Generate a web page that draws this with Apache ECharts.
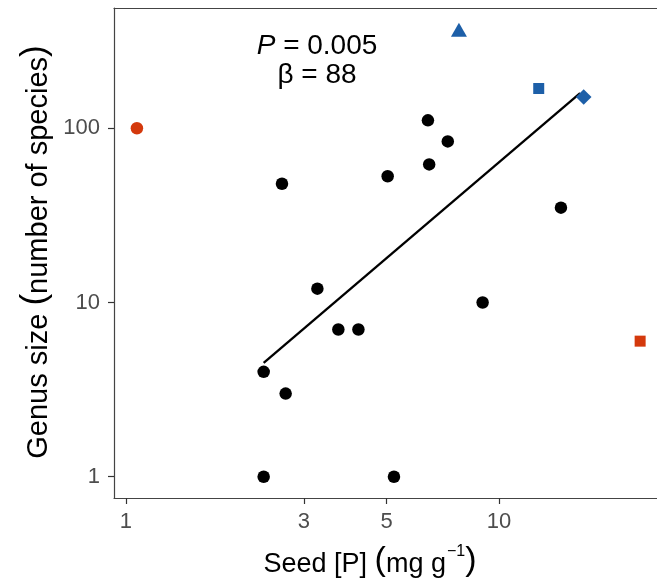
<!DOCTYPE html>
<html>
<head>
<meta charset="utf-8">
<script src="https://cdn.jsdelivr.net/npm/echarts@6/dist/echarts.min.js"></script>
<style>
  html, body { margin: 0; padding: 0; background: #fff; }
  #chart { width: 657px; height: 581px; }
</style>
</head>
<body>
<div id="chart"></div>
<script>
// Genera with seed phosphorus concentration vs. number of species
const blackSeedP = [2.62, 5.03, 3.26, 6.45, 7.29, 6.50, 14.66, 9.04, 3.71, 4.20, 2.34, 2.68, 2.34, 5.23];
const blackGenus = [48, 53, 12, 111, 84, 62, 35, 10, 7, 7, 4, 3, 1, 1];

const redSeedP = [1.07, 23.9];
const redGenus = [100, 6];
const redSymbols = ['circle', 'rect'];

const blueSeedP = [7.81, 12.78, 16.87];
const blueGenus = [368, 169, 151];
const blueSymbols = ['triangle', 'rect', 'diamond'];

// Fitted regression line (end points)
const fitSeedP = [2.34, 16.5];
const fitGenus = [4.5, 159];

const xTicks = [1, 3, 5, 10];
const yTicks = [1, 10, 100];

const lg = Math.log10;
const FONT = '"Liberation Sans", Arial, sans-serif';
const RED = '#d4390c';
const BLUE = '#1d5fa8';
const AXIS = '#444';

const pts = (xs, ys) => xs.map((x, i) => [lg(x), lg(ys[i])]);

// symbol name -> [echarts symbol, size, rotation]
const symbolStyle = {
  circle: ['circle', 12.5, 0],
  rect: ['rect', 11, 0],
  triangle: ['triangle', [16, 14], 0],
  diamond: ['rect', 11, 45]
};
const styledPoint = (d, name) => ({
  value: d,
  symbol: symbolStyle[name][0],
  symbolSize: symbolStyle[name][1],
  symbolRotate: symbolStyle[name][2]
});

const chart = echarts.init(document.getElementById('chart'), null, { renderer: 'canvas' });

const tickLabel = {
  color: '#4d4d4d',
  fontSize: 22,
  fontFamily: FONT,
  formatter: v => String(Math.round(Math.pow(10, v)))
};

chart.setOption({
  animation: false,
  backgroundColor: '#fff',
  grid: { left: 114, top: 8, right: 0, bottom: 83, show: false },
  xAxis: [
    {
      type: 'value', min: -0.032, max: 1.4236,
      splitLine: { show: false },
      axisLine: { show: true, onZero: false, lineStyle: { color: AXIS, width: 1.2 } },
      axisTick: { show: true, customValues: xTicks.map(lg), length: 6, lineStyle: { color: '#333', width: 1.2 } },
      axisLabel: Object.assign({ customValues: xTicks.map(lg), margin: 13 }, tickLabel)
    },
    {
      // top frame line
      type: 'value', position: 'top', min: -0.032, max: 1.4236,
      splitLine: { show: false },
      axisLine: { show: true, onZero: false, lineStyle: { color: AXIS, width: 1.2 } },
      axisTick: { show: false },
      axisLabel: { show: false }
    }
  ],
  yAxis: {
    type: 'value', min: -0.122, max: 2.69,
    splitLine: { show: false },
    axisLine: { show: true, onZero: false, lineStyle: { color: AXIS, width: 1.2 } },
    axisTick: { show: true, customValues: yTicks.map(lg), length: 6, lineStyle: { color: '#333', width: 1.2 } },
    axisLabel: Object.assign({ customValues: yTicks.map(lg), margin: 14 }, tickLabel)
  },
  series: [
    {
      type: 'line',
      data: pts(fitSeedP, fitGenus),
      showSymbol: false,
      lineStyle: { color: '#000', width: 2.3 },
      z: 2
    },
    {
      type: 'scatter',
      data: pts(blackSeedP, blackGenus),
      symbol: 'circle',
      symbolSize: 12.5,
      itemStyle: { color: '#000', opacity: 1 },
      z: 3
    },
    {
      type: 'scatter',
      data: pts(redSeedP, redGenus).map((d, i) => styledPoint(d, redSymbols[i])),
      itemStyle: { color: RED, opacity: 1 },
      z: 3
    },
    {
      type: 'scatter',
      data: pts(blueSeedP, blueGenus).map((d, i) => styledPoint(d, blueSymbols[i])),
      itemStyle: { color: BLUE, opacity: 1 },
      z: 3
    }
  ],
  graphic: [
    {
      type: 'text', x: 317, y: 46,
      style: {
        text: '{it|P} = 0.005', align: 'center', verticalAlign: 'middle',
        fill: '#000', fontSize: 28, fontFamily: FONT,
        rich: { it: { fontStyle: 'italic', fontSize: 28, fontFamily: FONT, fill: '#000' } }
      }
    },
    {
      type: 'text', x: 317, y: 75,
      style: {
        text: 'β = 88', align: 'center', verticalAlign: 'middle',
        fill: '#000', fontSize: 28, fontFamily: FONT
      }
    },
    {
      type: 'text', x: 370, y: 559,
      style: {
        text: '{t|Seed [P] }{p|(}{t|mg g}{s|−1}{p|)}',
        align: 'center', verticalAlign: 'middle',
        rich: {
          t: { fontSize: 27, fontFamily: FONT, fill: '#000', lineHeight: 38, verticalAlign: 'bottom' },
          p: { fontSize: 34, fontFamily: FONT, fill: '#000', lineHeight: 38, verticalAlign: 'bottom' },
          s: { fontSize: 16, fontFamily: FONT, fill: '#000', lineHeight: 38, verticalAlign: 'top', padding: [4, 0, 0, 1] }
        }
      }
    },
    {
      type: 'text', x: 33, y: 252, rotation: Math.PI / 2,
      style: {
        text: '{t|Genus size }{p|(}{t|number of species}{p|)}',
        align: 'center', verticalAlign: 'middle',
        rich: {
          t: { fontSize: 29, fontFamily: FONT, fill: '#000', lineHeight: 40, verticalAlign: 'bottom' },
          p: { fontSize: 35, fontFamily: FONT, fill: '#000', lineHeight: 40, verticalAlign: 'bottom' }
        }
      }
    }
  ]
});
</script>
</body>
</html>
